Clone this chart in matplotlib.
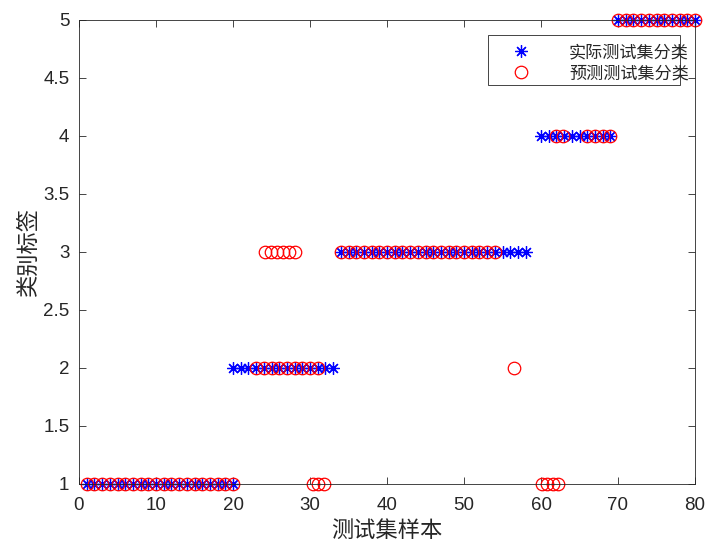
import matplotlib
matplotlib.use('Agg')
import matplotlib.patches as mpatches
from matplotlib import pyplot as plt

# actual class of the test samples (blue stars), one list per class
true_x_1 = list(range(1, 21))
true_x_2 = list(range(20, 34))
true_x_3 = list(range(34, 59))
true_x_4 = list(range(60, 70))
true_x_5 = list(range(70, 81))

# predicted class (red circles), positions
pred_x_1 = list(range(1, 21)) + [30.4, 31.1, 31.8] + [60.1, 60.8, 61.5, 62.2]
pred_x_2 = list(range(23, 32)) + [56.5]
pred_x_3 = [24.1, 24.9, 25.7, 26.5, 27.3, 28.1] + list(range(34, 55))
pred_x_4 = [62, 62.8] + [66, 67, 68, 69]
pred_x_5 = list(range(70, 81))

x_ticks = [0, 10, 20, 30, 40, 50, 60, 70, 80]
y_ticks = [1, 1.5, 2, 2.5, 3, 3.5, 4, 4.5, 5]
y_tick_labels = ['1', '1.5', '2', '2.5', '3', '3.5', '4', '4.5', '5']

cjk = ['Noto Sans CJK SC', 'DejaVu Sans']
axis_color = '#262626'


def main():
    W, H = 712, 546
    fig = plt.figure(figsize=(W / 100, H / 100), dpi=100)
    ax = fig.add_axes([79 / W, 62 / H, 616 / W, 464 / H])

    true_x = true_x_1 + true_x_2 + true_x_3 + true_x_4 + true_x_5
    true_y = ([1] * len(true_x_1) + [2] * len(true_x_2) + [3] * len(true_x_3) +
              [4] * len(true_x_4) + [5] * len(true_x_5))
    pred_x = pred_x_1 + pred_x_2 + pred_x_3 + pred_x_4 + pred_x_5
    pred_y = ([1] * len(pred_x_1) + [2] * len(pred_x_2) + [3] * len(pred_x_3) +
              [4] * len(pred_x_4) + [5] * len(pred_x_5))

    star = (8, 2, 0)
    ax.plot(true_x, true_y, linestyle='none', marker=star, color='#0000ff',
            markersize=9, markeredgewidth=0.9, label='实际测试集分类', clip_on=False)
    ax.plot(pred_x, pred_y, linestyle='none', marker='o', color='#ff0000',
            markerfacecolor='none', markersize=9, markeredgewidth=0.9,
            label='预测测试集分类', clip_on=False)

    ax.set_xlim(0, 80)
    ax.set_ylim(1, 5)
    ax.set_xticks(x_ticks)
    ax.set_yticks(y_ticks)
    ax.set_yticklabels(y_tick_labels)

    for side in ['top', 'bottom', 'left', 'right']:
        ax.spines[side].set_color(axis_color)
        ax.spines[side].set_linewidth(0.6)
    ax.tick_params(direction='in', length=5, width=0.6, color=axis_color,
                   top=True, right=True, labelsize=13.5, labelcolor=axis_color)
    ax.tick_params(axis='x', pad=9)
    ax.tick_params(axis='y', pad=7)
    for lab in ax.get_xticklabels() + ax.get_yticklabels():
        lab.set_family('Liberation Sans')

    ax.set_xlabel('测试集样本', family=cjk, fontsize=16, color=axis_color, labelpad=4)
    ax.set_ylabel('类别标签', family=cjk, fontsize=16, color=axis_color, labelpad=2)

    # legend box (MATLAB lets the text run past the frame)
    box = mpatches.Rectangle((488 / W, 1 - 85 / H), 192 / W, 50 / H,
                             transform=fig.transFigure, facecolor='white',
                             edgecolor=axis_color, linewidth=0.6, zorder=4,
                             clip_on=False)
    ax.add_artist(box)
    leg = ax.legend(loc='upper left', bbox_to_anchor=(488 / W, 1 - 38 / H),
                    bbox_transform=fig.transFigure, prop={'family': cjk, 'size': 12.3},
                    frameon=False, borderpad=0.3, handlelength=3.3,
                    handletextpad=1.15, labelspacing=0.18, borderaxespad=0)
    leg.set_zorder(5)
    for t in leg.get_texts():
        t.set_color(axis_color)

    fig.savefig('out.png', dpi=100)


if __name__ == '__main__':
    main()
